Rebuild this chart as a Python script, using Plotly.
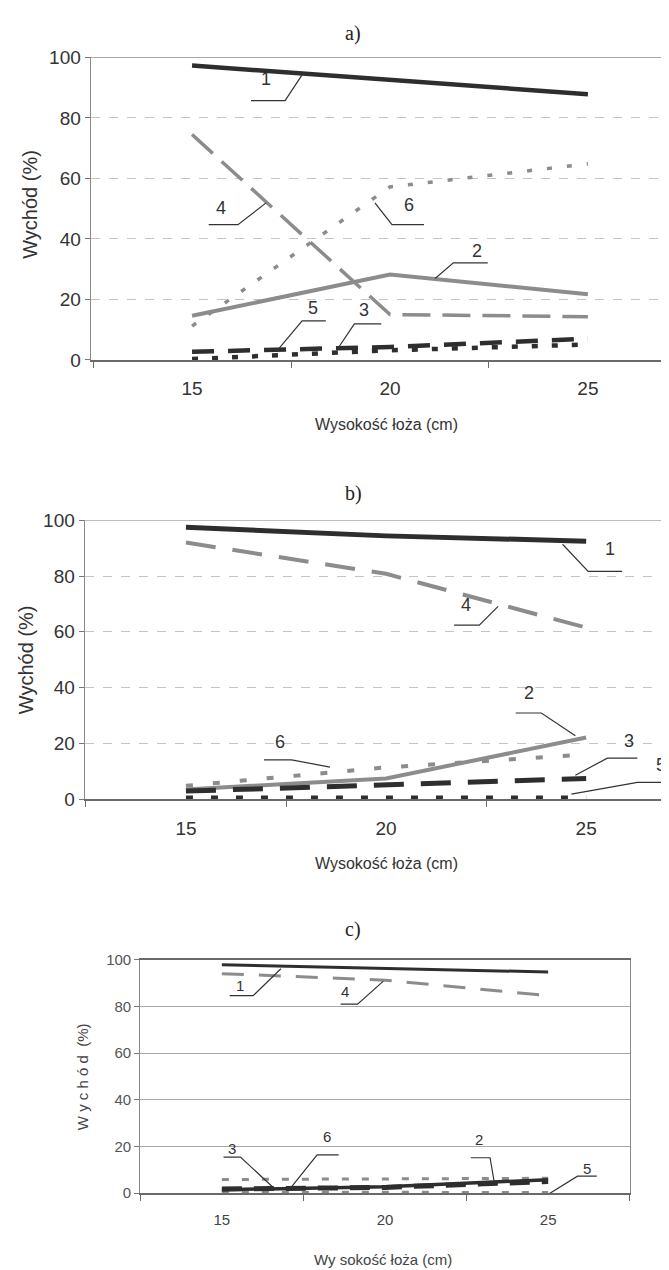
import plotly.graph_objects as go

# ---------------- data ----------------
x_cat = [15, 20, 25]
tick_labels = ["15", "20", "25"]

# panel a)
a_s1 = [97.3, 92.4, 87.8]
a_s2 = [14.6, 28.2, 21.7]
a_s3 = [2.7, 4.3, 7.0]
a_s4 = [74.5, 15.0, 14.3]
a_s5 = [0.3, 3.2, 5.1]
a_s6 = [11.2, 57.2, 64.8]

# panel b)
b_s1 = [97.5, 94.4, 92.5]
b_s2 = [3.5, 7.4, 22.1]
b_s3 = [2.9, 5.0, 7.4]
b_s4 = [92.0, 80.8, 61.5]
b_s5 = [0.6, 0.6, 0.6]
b_s6 = [4.8, 11.4, 16.0]

# panel c)
c_s1 = [97.9, 96.5, 94.8]
c_s2 = [1.5, 2.8, 5.8]
c_s3 = [1.8, 2.5, 5.0]
c_s4 = [94.1, 91.3, 84.7]
c_s5 = [0.5, 0.5, 0.3]
c_s6 = [5.9, 6.1, 6.4]

y_ticks = [0, 20, 40, 60, 80, 100]
panel_titles = ["a)", "b)", "c)"]
y_title = "Wychód (%)"
x_title = "Wysokość łoża (cm)"
x_title_c = "Wy sokość łoża (cm)"

DARK = "#2e2e2e"
GRAY = "#8c8c8c"
W, H = 669, 1270

fig = go.Figure()

def add(xa, ya, vals, color, width, dash):
    fig.add_trace(go.Scatter(x=x_cat, y=vals, mode="lines", xaxis=xa, yaxis=ya,
                             line=dict(color=color, width=width, dash=dash),
                             showlegend=False, hoverinfo="skip"))

# panel a
add("x", "y", a_s4, GRAY, 3.5, "28px,12px")
add("x", "y", a_s6, GRAY, 3.5, "5px,15px")
add("x", "y", a_s2, GRAY, 4, "solid")
add("x", "y", a_s3, DARK, 4.5, "22px,14px")
add("x", "y", a_s5, DARK, 4.5, "6px,14px")
add("x", "y", a_s1, DARK, 4.5, "solid")

# panel b
add("x2", "y2", b_s4, GRAY, 4, "30px,17px")
add("x2", "y2", b_s6, GRAY, 4, "7px,20px")
add("x2", "y2", b_s2, GRAY, 4, "solid")
add("x2", "y2", b_s3, DARK, 5, "30px,17px")
add("x2", "y2", b_s5, DARK, 4, "7px,18px")
add("x2", "y2", b_s1, DARK, 5, "solid")

# panel c
add("x3", "y3", c_s4, GRAY, 3, "22px,15px")
add("x3", "y3", c_s6, GRAY, 3, "7px,13px")
add("x3", "y3", c_s5, GRAY, 3, "7px,13px")
add("x3", "y3", c_s3, DARK, 5, "20px,12px")
add("x3", "y3", c_s2, DARK, 3.5, "solid")
add("x3", "y3", c_s1, DARK, 3, "solid")

def xaxis(domain, rng, anchor, fs, color, mirror, lab_gap):
    return dict(domain=domain, range=rng, anchor=anchor, tickmode="array",
                tickvals=x_cat, ticktext=tick_labels, ticks="outside", ticklen=lab_gap,
                tickcolor="rgba(0,0,0,0)", showgrid=False,
                zeroline=False, showline=True, linecolor="#6a6a6a", linewidth=1.5,
                mirror=mirror, tickfont=dict(family="Liberation Sans, Arial", size=fs, color=color),
                minor=dict(tickvals=[12.5, 17.5, 22.5, 27.5], ticks="outside", ticklen=6,
                           tickcolor="#6a6a6a", showgrid=False),
                fixedrange=True)

def yaxis(domain, anchor, fs, color, gridcolor, griddash, mirror):
    return dict(domain=domain, range=[0, 100], anchor=anchor, tickmode="array",
                tickvals=y_ticks, ticks="outside", ticklen=5, tickcolor="#777",
                showgrid=True, gridcolor=gridcolor, griddash=griddash, gridwidth=1,
                zeroline=False, showline=True, linecolor="#8a8a8a", linewidth=1.2,
                mirror=mirror, tickfont=dict(family="Liberation Sans, Arial", size=fs, color=color),
                fixedrange=True)

layout = dict(
    width=W, height=H, margin=dict(l=0, r=0, t=0, b=0),
    paper_bgcolor="white", plot_bgcolor="white", showlegend=False,
    xaxis=xaxis([82.7 / W, 1.0], [12.44, 27.25], "y", 19, "#333", False, 10),
    yaxis=yaxis([1 - 347.7 / H, 1 - 40 / H], "x", 19, "#333", "#c4c4c4", "dash", False),
    xaxis2=xaxis([76.7 / W, 1.0], [12.47, 27.27], "y2", 19, "#333", False, 11),
    yaxis2=yaxis([1 - 794.3 / H, 1 - 510.7 / H], "x2", 19, "#333", "#c4c4c4", "dash", False),
    xaxis3=xaxis([132.3 / W, 621.7 / W], [12.5, 27.5], "y3", 15, "#444", True, 12),
    yaxis3=yaxis([1 - 1195 / H, 1 - 957.7 / H], "x3", 15, "#555", "#a8a8a8", "solid", True),
)
fig.update_layout(**layout)
# top border for a and b
fig.add_shape(type="line", xref="x", yref="y", x0=12.44, x1=27.25, y0=100, y1=100,
              line=dict(color="#8a8a8a", width=1.2))
fig.add_shape(type="line", xref="x2", yref="y2", x0=12.47, x1=27.27, y0=100, y1=100,
              line=dict(color="#8a8a8a", width=1.2))

# ---------------- labels with leader lines ----------------
labels_a = [
    ("1", 16.87, 92.8, [(16.49, 85.7), (17.35, 85.7), (17.78, 94.2)]),
    ("4", 15.73, 50.3, [(15.42, 44.7), (16.16, 44.7), (16.87, 51.9)]),
    ("6", 20.48, 51.2, [(20.86, 44.7), (20.05, 44.7), (19.62, 51.9)]),
    ("2", 22.2, 36.0, [(22.47, 32.1), (21.6, 32.1), (21.14, 26.9)]),
    ("5", 18.06, 17.1, [(18.38, 12.9), (17.78, 12.9), (17.15, 3.1)]),
    ("3", 19.35, 16.5, [(19.78, 11.9), (19.1, 11.9), (18.7, 4.1)]),
]
labels_b = [
    ("1", 25.59, 89.7, [(25.9, 81.7), (25.05, 81.7), (24.41, 91.4)]),
    ("4", 22.0, 69.7, [(21.7, 62.4), (22.33, 62.4), (22.8, 69.1)]),
    ("2", 23.56, 37.9, [(23.24, 30.9), (23.88, 30.9), (24.73, 22.7)]),
    ("3", 26.07, 20.9, [(26.28, 14.7), (25.53, 14.7), (24.73, 8.6)]),
    ("5", 26.87, 12.1, [(27.08, 6.0), (26.28, 6.0), (24.63, 1.8)]),
    ("6", 17.35, 20.6, [(16.95, 14.1), (17.64, 14.1), (18.6, 11.5)]),
]
labels_c = [
    ("1", 15.57, 88.9, [(15.24, 84.7), (15.96, 84.7), (16.81, 96.2)]),
    ("4", 18.77, 86.4, [(18.64, 81.0), (19.16, 81.0), (19.95, 90.9)]),
    ("3", 15.31, 19.3, [(15.05, 15.5), (15.57, 15.5), (16.55, 2.8)]),
    ("6", 18.22, 24.3, [(18.58, 16.4), (17.92, 16.4), (17.14, 2.8)]),
    ("2", 22.89, 23.2, [(22.63, 15.2), (23.22, 15.2), (23.35, 4.6)]),
    ("5", 26.2, 10.8, [(26.49, 7.3), (25.9, 7.3), (24.85, -1.8)]),
]

def put_labels(items, xr, yr, fs):
    for txt, tx, ty, pts in items:
        fig.add_annotation(x=tx, y=ty, xref=xr, yref=yr, text=txt, showarrow=False,
                           font=dict(family="Liberation Sans, Arial", size=fs, color="#333"))
        path = "M " + " L ".join(f"{px},{py}" for px, py in pts)
        fig.add_shape(type="path", path=path, xref=xr, yref=yr,
                      line=dict(color="#333", width=1.2))

put_labels(labels_a, "x", "y", 18)
put_labels(labels_b, "x2", "y2", 18)
put_labels(labels_c, "x3", "y3", 15)

# ---------------- titles ----------------
def paper_text(txt, px, py, fs, family, color="#222", angle=0):
    fig.add_annotation(x=px / W, y=1 - py / H, xref="paper", yref="paper", text=txt,
                       showarrow=False, textangle=angle, xanchor="center", yanchor="middle",
                       font=dict(family=family, size=fs, color=color))

serif = "Liberation Serif, Times New Roman"
sans = "Liberation Sans, Arial"
paper_text(panel_titles[0], 345, 16, 20, serif)
paper_text(panel_titles[1], 345, 483, 20, serif)
paper_text(panel_titles[2], 345, 927, 20, serif)

paper_text(y_title, 22, 190, 20, sans, "#333", -90)
paper_text(y_title, 18, 653, 20, sans, "#333", -90)
paper_text("W y c h ó d  (%)", 74, 1077, 15, sans, "#444", -90)

paper_text(x_title, 378, 413, 16, sans, "#333")
paper_text(x_title, 378, 860, 16, sans, "#333")
paper_text(x_title_c, 375, 1262, 15, sans, "#444")

fig.write_html("out.html")
